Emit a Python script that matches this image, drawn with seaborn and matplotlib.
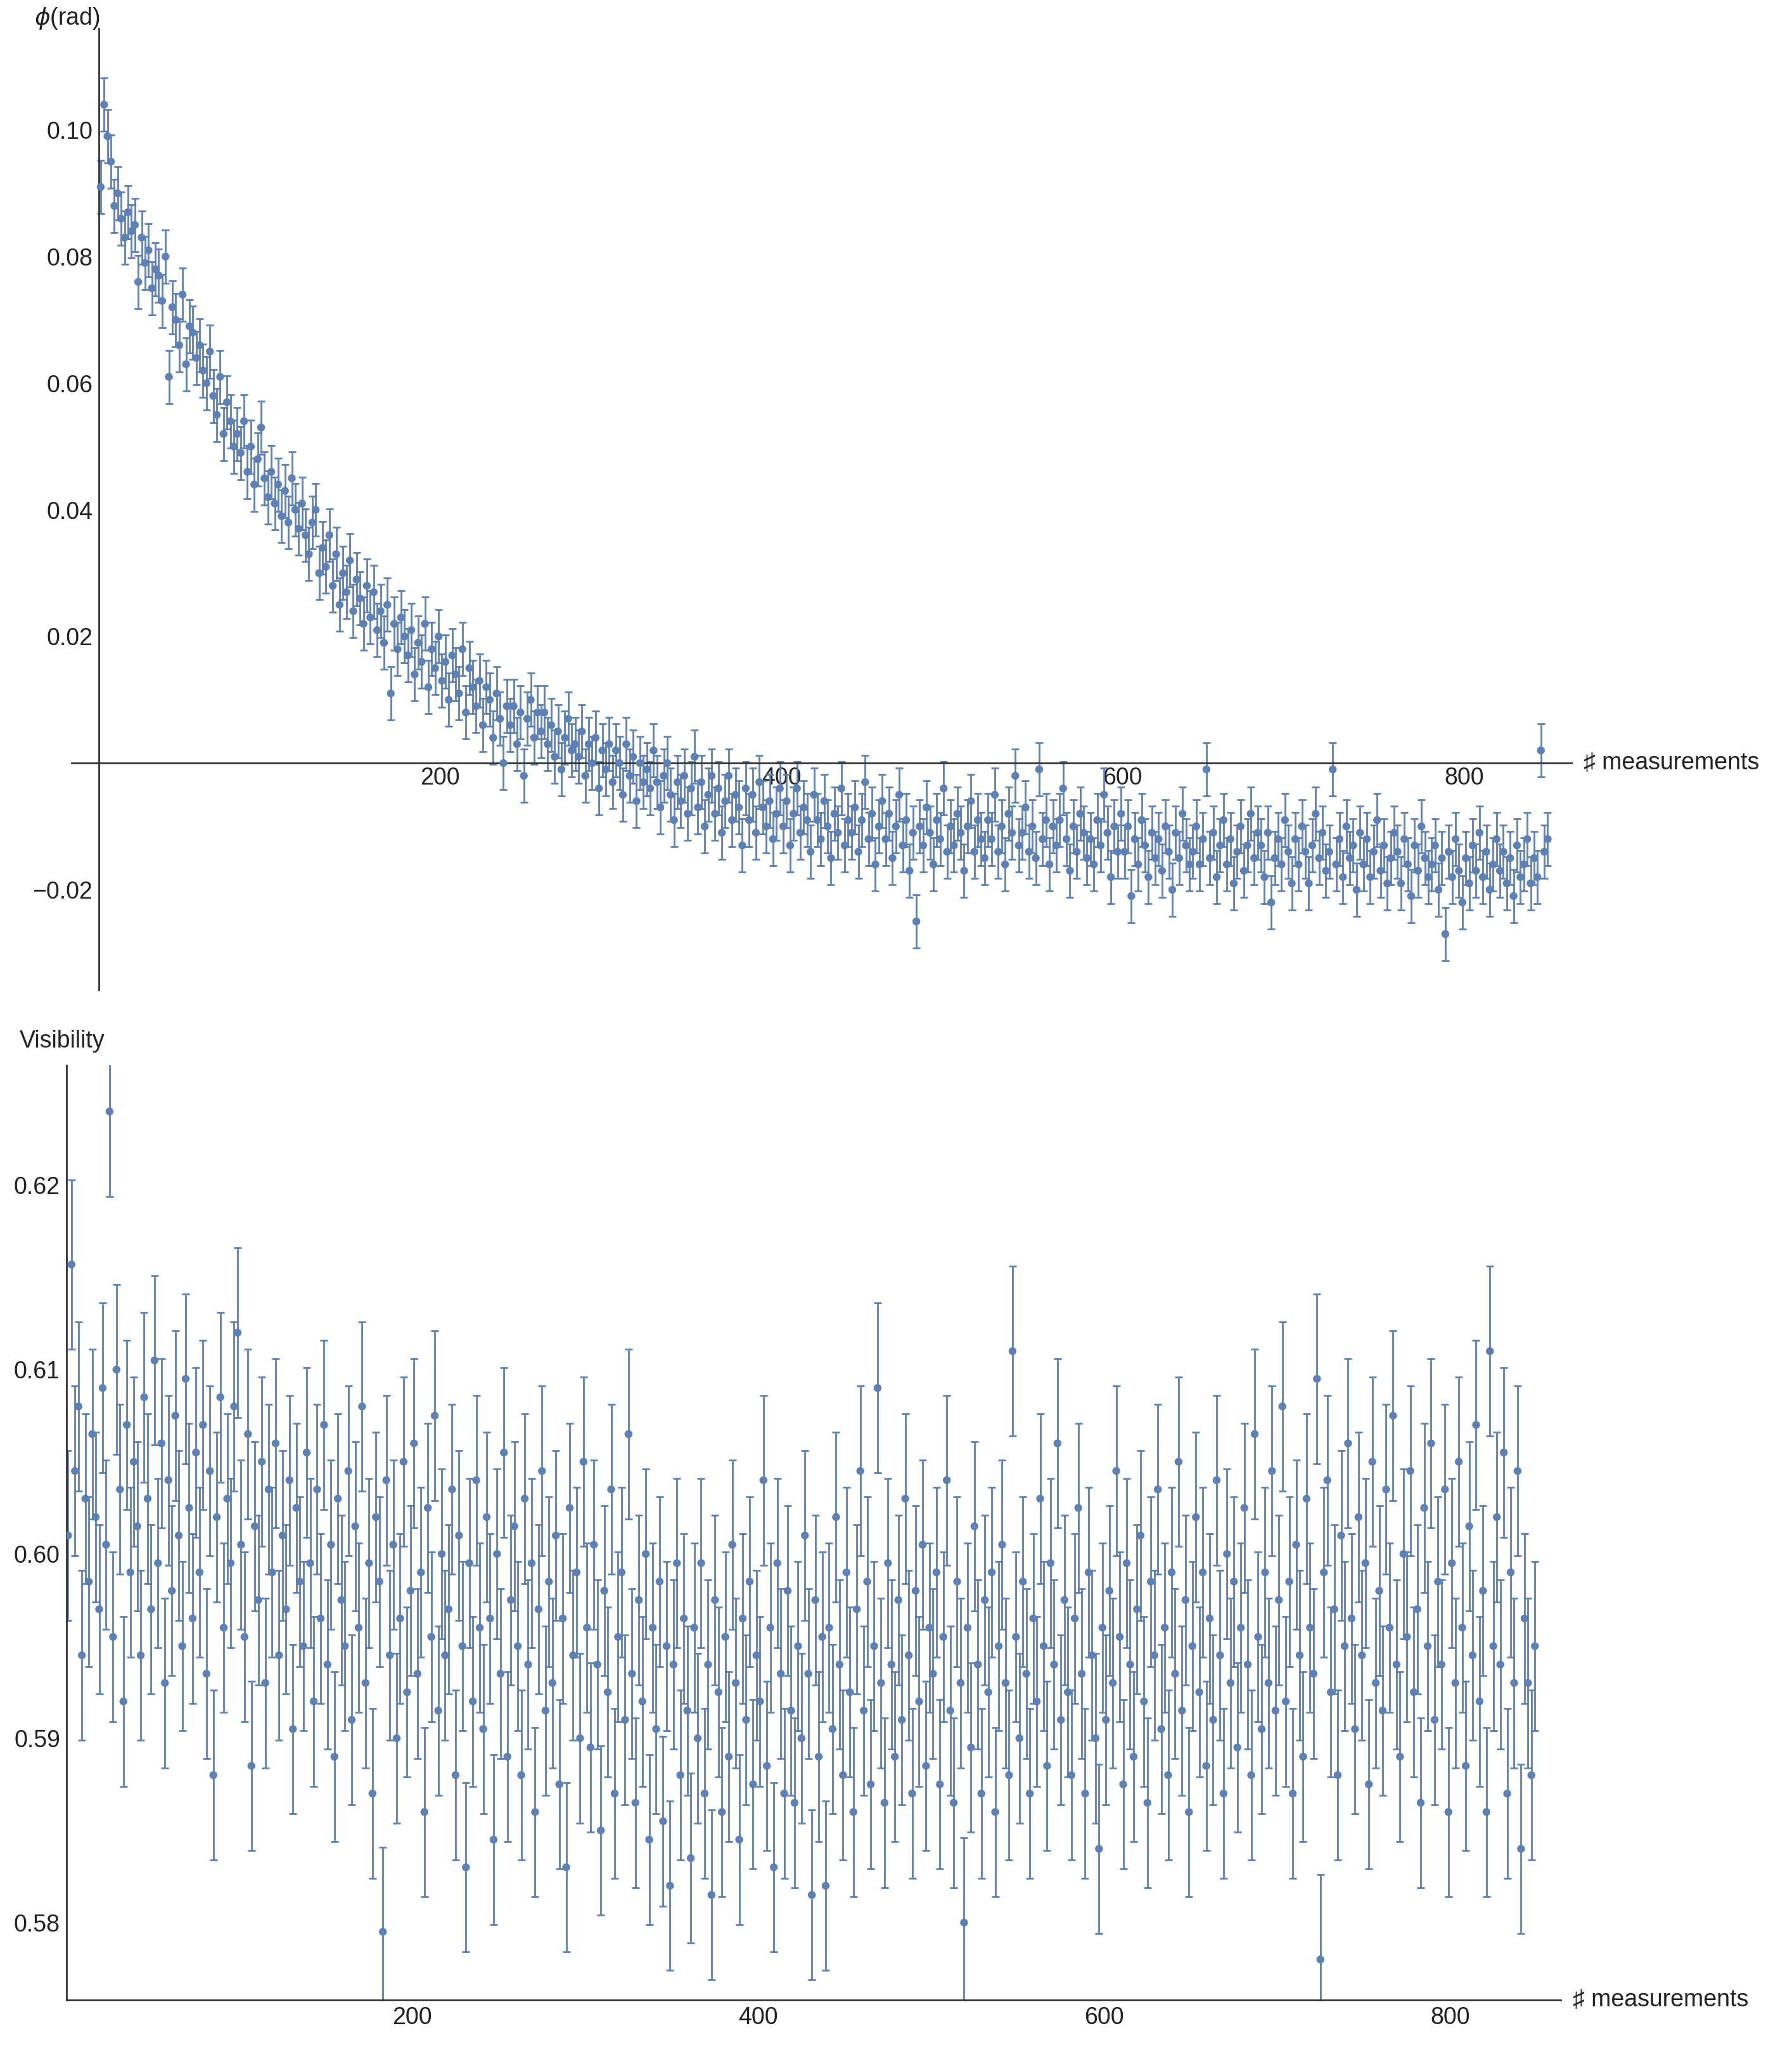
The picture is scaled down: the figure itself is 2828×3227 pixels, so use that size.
import numpy as np
import matplotlib
matplotlib.use("Agg")
import matplotlib.pyplot as plt
import matplotlib.transforms as mtransforms
from matplotlib.ticker import MultipleLocator, FuncFormatter
import seaborn as sns
import pandas as pd

sns.set_theme(style="white")
FAM = ['Liberation Sans', 'DejaVu Sans']
plt.rcParams['font.family'] = FAM

meas = list(range(1, 850, 2))

phi = [
0.091,0.104,0.099,0.095,0.088,0.090,0.086,0.083,0.087,0.084,
0.085,0.076,0.083,0.079,0.081,0.075,0.078,0.077,0.073,0.080,
0.061,0.072,0.070,0.066,0.074,0.063,0.069,0.068,0.064,0.066,
0.062,0.060,0.065,0.058,0.055,0.061,0.052,0.057,0.054,0.050,
0.052,0.049,0.054,0.046,0.050,0.044,0.048,0.053,0.045,0.042,
0.046,0.041,0.044,0.039,0.043,0.038,0.045,0.040,0.037,0.041,
0.036,0.033,0.038,0.040,0.030,0.034,0.031,0.036,0.028,0.033,
0.025,0.030,0.027,0.032,0.024,0.029,0.026,0.022,0.028,0.023,
0.027,0.021,0.024,0.019,0.025,0.011,0.022,0.018,0.023,0.020,
0.017,0.021,0.014,0.019,0.016,0.022,0.012,0.018,0.015,0.020,
0.013,0.016,0.010,0.017,0.014,0.011,0.018,0.008,0.015,0.012,
0.009,0.013,0.006,0.012,0.010,0.004,0.011,0.007,0.000,0.009,
0.006,0.009,0.003,0.008,-0.002,0.007,0.010,0.004,0.008,0.005,
0.008,0.003,0.006,0.001,0.005,-0.001,0.004,0.007,0.002,0.003,
0.001,0.005,-0.002,0.003,0.000,0.004,-0.004,0.002,-0.001,0.003,
-0.003,0.002,0.000,-0.005,0.003,-0.002,0.001,-0.006,0.000,-0.003,
-0.001,-0.004,0.002,-0.003,-0.007,-0.002,0.000,-0.005,-0.009,-0.003,
-0.006,-0.002,-0.008,-0.004,0.001,-0.007,-0.003,-0.010,-0.005,-0.002,
-0.008,-0.004,-0.011,-0.006,-0.002,-0.009,-0.005,-0.007,-0.013,-0.004,
-0.009,-0.005,-0.011,-0.003,-0.007,-0.010,-0.006,-0.012,-0.008,-0.004,
-0.010,-0.006,-0.013,-0.008,-0.004,-0.011,-0.007,-0.009,-0.014,-0.005,
-0.009,-0.012,-0.006,-0.010,-0.015,-0.008,-0.011,-0.004,-0.013,-0.009,
-0.011,-0.007,-0.014,-0.009,-0.003,-0.012,-0.008,-0.016,-0.010,-0.006,
-0.012,-0.008,-0.015,-0.010,-0.005,-0.013,-0.009,-0.017,-0.011,-0.025,
-0.010,-0.013,-0.007,-0.011,-0.016,-0.009,-0.012,-0.004,-0.014,-0.010,
-0.013,-0.008,-0.011,-0.017,-0.010,-0.006,-0.014,-0.009,-0.012,-0.015,
-0.009,-0.012,-0.005,-0.014,-0.010,-0.016,-0.008,-0.011,-0.002,-0.013,
-0.011,-0.007,-0.014,-0.010,-0.015,-0.001,-0.012,-0.009,-0.016,-0.010,
-0.013,-0.009,-0.004,-0.012,-0.017,-0.010,-0.014,-0.008,-0.011,-0.015,
-0.012,-0.016,-0.009,-0.013,-0.005,-0.011,-0.018,-0.010,-0.014,-0.008,
-0.014,-0.010,-0.021,-0.012,-0.016,-0.009,-0.013,-0.018,-0.011,-0.015,
-0.012,-0.017,-0.010,-0.014,-0.020,-0.011,-0.015,-0.008,-0.013,-0.016,
-0.014,-0.010,-0.016,-0.012,-0.001,-0.015,-0.011,-0.018,-0.013,-0.009,
-0.016,-0.012,-0.019,-0.014,-0.010,-0.017,-0.013,-0.008,-0.015,-0.011,
-0.013,-0.018,-0.011,-0.022,-0.015,-0.012,-0.016,-0.009,-0.014,-0.019,
-0.012,-0.016,-0.010,-0.014,-0.019,-0.013,-0.008,-0.015,-0.011,-0.017,
-0.014,-0.001,-0.016,-0.012,-0.018,-0.010,-0.015,-0.013,-0.020,-0.011,
-0.016,-0.012,-0.018,-0.014,-0.009,-0.017,-0.013,-0.019,-0.015,-0.011,
-0.014,-0.019,-0.012,-0.016,-0.021,-0.013,-0.017,-0.010,-0.015,-0.018,
-0.016,-0.013,-0.020,-0.015,-0.027,-0.014,-0.018,-0.012,-0.017,-0.022,
-0.015,-0.019,-0.013,-0.017,-0.011,-0.018,-0.014,-0.020,-0.016,-0.012,
-0.017,-0.014,-0.019,-0.015,-0.021,-0.013,-0.018,-0.016,-0.012,-0.019,
-0.015,-0.018,0.002,-0.014,-0.012]

vis = [
.6010,.6157,.6045,.6080,.5945,.6030,.5985,.6065,.6020,.5970,
.6090,.6005,.6240,.5955,.6100,.6035,.5920,.6070,.5990,.6050,
.6015,.5945,.6085,.6030,.5970,.6105,.5995,.6060,.5930,.6040,
.5980,.6075,.6010,.5950,.6095,.6025,.5965,.6055,.5990,.6070,
.5935,.6045,.5880,.6020,.6085,.5960,.6030,.5995,.6080,.6120,
.6005,.5955,.6065,.5885,.6015,.5975,.6050,.5930,.6035,.5990,
.6060,.5945,.6010,.5970,.6040,.5905,.6025,.5985,.5950,.6055,
.5995,.5920,.6035,.5965,.6070,.5940,.6005,.5890,.6030,.5975,
.5950,.6045,.5910,.6015,.5960,.6080,.5930,.5995,.5870,.6020,
.5985,.5795,.6040,.5945,.6005,.5900,.5965,.6050,.5925,.5980,
.6060,.5935,.5990,.5860,.6025,.5955,.6075,.5915,.6000,.5945,
.5970,.6035,.5880,.6010,.5950,.5830,.5995,.5920,.6040,.5960,
.5905,.6020,.5965,.5845,.6000,.5935,.6055,.5890,.5975,.6015,
.5950,.5880,.6030,.5940,.5995,.5860,.5970,.6045,.5915,.5985,
.5930,.6010,.5875,.5965,.5830,.6025,.5945,.5990,.5900,.6050,
.5960,.5895,.6005,.5940,.5850,.5980,.5925,.6035,.5870,.5955,
.5990,.5910,.6065,.5935,.5865,.5975,.5920,.6000,.5845,.5960,
.5905,.5985,.5855,.5950,.5820,.5940,.5995,.5880,.5965,.5915,
.5835,.5960,.5900,.5995,.5870,.5940,.5815,.5975,.5925,.5860,
.5955,.5890,.6005,.5930,.5845,.5965,.5910,.5985,.5875,.5945,
.5920,.6040,.5885,.5960,.5830,.5995,.5935,.5870,.5980,.5915,
.5865,.5950,.5900,.6010,.5935,.5815,.5975,.5890,.5955,.5820,
.5960,.5905,.6020,.5940,.5880,.5990,.5925,.5860,.5970,.6045,
.5915,.5985,.5875,.5950,.6090,.5930,.5865,.5995,.5940,.5890,
.5975,.5910,.6030,.5945,.5870,.5980,.5920,.6005,.5885,.5960,
.5935,.5990,.5875,.5955,.6040,.5915,.5865,.5985,.5930,.5800,
.5960,.5895,.6015,.5940,.5870,.5975,.5925,.5990,.5860,.5950,
.6005,.5930,.5880,.6110,.5955,.5900,.5985,.5935,.5870,.5965,
.5920,.6030,.5950,.5885,.5995,.5940,.6060,.5910,.5975,.5925,
.5880,.5965,.6025,.5935,.5870,.5990,.5945,.5900,.5840,.5960,
.5910,.5980,.5930,.6045,.5955,.5875,.5995,.5940,.5890,.5970,
.6010,.5920,.5865,.5985,.5945,.6035,.5905,.5960,.5880,.5990,
.5935,.6050,.5915,.5975,.5860,.5950,.6020,.5925,.5990,.5885,
.5965,.5910,.6040,.5945,.5870,.6000,.5930,.5985,.5895,.5960,
.6025,.5940,.5880,.6065,.5955,.5905,.5990,.5930,.6045,.5915,
.5975,.6080,.5920,.5985,.5870,.6005,.5945,.5890,.6030,.5960,
.5935,.6095,.5780,.5990,.6040,.5925,.5970,.5880,.6010,.5950,
.6060,.5965,.5905,.6020,.5945,.5995,.5875,.6050,.5930,.5980,
.5915,.6035,.5960,.6075,.5940,.5890,.6000,.5955,.6045,.5925,
.5970,.5865,.6025,.5950,.6060,.5910,.5985,.5940,.6035,.5860,
.5995,.5930,.6050,.5960,.5885,.6015,.5945,.6070,.5920,.5980,
.5860,.6110,.5950,.6020,.5940,.6055,.5870,.5990,.5930,.6045,
.5840,.5965,.5930,.5880,.5950]

phi_err = 0.0042
vis_err = 0.0046

C = "#5E81B5"
df1 = pd.DataFrame({"m": meas, "v": phi})
df2 = pd.DataFrame({"m": meas, "v": vis})

fig = plt.figure(figsize=(14.14, 16.135), dpi=200)
ax1 = fig.add_axes([0.040, 0.516, 0.837, 0.470])
ax2 = fig.add_axes([0.037, 0.022, 0.834, 0.457])

def style(ax):
    for s in ["top", "right"]:
        ax.spines[s].set_visible(False)
    for s in ["left", "bottom"]:
        ax.spines[s].set_color("#333333")
        ax.spines[s].set_linewidth(1.0)
    ax.tick_params(which="major", direction="in", length=7, width=0.9, color="#333333",
                   labelsize=13.5, labelcolor="#222222")
    ax.tick_params(which="minor", direction="in", length=4, width=0.7, color="#555555")
    ax.xaxis.set_major_locator(MultipleLocator(200))
    ax.xaxis.set_minor_locator(MultipleLocator(50))
    ax.set_xlabel(""); ax.set_ylabel("")

for ax, df, err in [(ax1, df1, phi_err), (ax2, df2, vis_err)]:
    ax.errorbar(df["m"], df["v"], yerr=err, fmt="none", ecolor=C, elinewidth=1.0,
                capsize=2.2, capthick=1.0, zorder=2)
    sns.scatterplot(data=df, x="m", y="v", ax=ax, color=C, s=20, edgecolor="none",
                    zorder=3, legend=False)
    style(ax)

XLAB = "\u266F measurements"

# top panel
ax1.set_xlim(-16, 863)
ax1.set_ylim(-0.0358, 0.116)
ax1.spines["left"].set_position(("data", 0))
ax1.spines["bottom"].set_position(("data", 0))
ax1.set_xticks([200, 400, 600, 800])
ax1.set_yticks([-0.02, 0.02, 0.04, 0.06, 0.08, 0.10])
ax1.yaxis.set_minor_locator(MultipleLocator(0.005))
ax1.yaxis.set_major_formatter(FuncFormatter(lambda v, p: f"{v:.2f}".replace("-", "\u2212")))
ax1.tick_params(axis="x", pad=2)
tr1 = mtransforms.blended_transform_factory(ax1.transAxes, ax1.transData)
ax1.text(1.008, 0, XLAB, transform=tr1, va="center", ha="left",
         fontsize=13.5, color="#222222", family=FAM)
fig.text(0.019, 0.991, r"$\phi$(rad)", fontsize=13.5, color="#222222", va="center")

# bottom panel
ax2.set_xlim(0, 864)
ax2.set_ylim(0.5758, 0.6265)
ax2.set_xticks([200, 400, 600, 800])
ax2.set_yticks([0.58, 0.59, 0.60, 0.61, 0.62])
ax2.yaxis.set_minor_locator(MultipleLocator(0.0025))
ax2.yaxis.set_major_formatter(FuncFormatter(lambda v, p: f"{v:.2f}"))
ax2.text(1.008, 0, XLAB, transform=ax2.transAxes, va="center", ha="left",
         fontsize=13.5, color="#222222", family=FAM)
fig.text(0.011, 0.491, "Visibility", fontsize=13.5, color="#222222", va="center")

fig.savefig("out.png", dpi=200)
